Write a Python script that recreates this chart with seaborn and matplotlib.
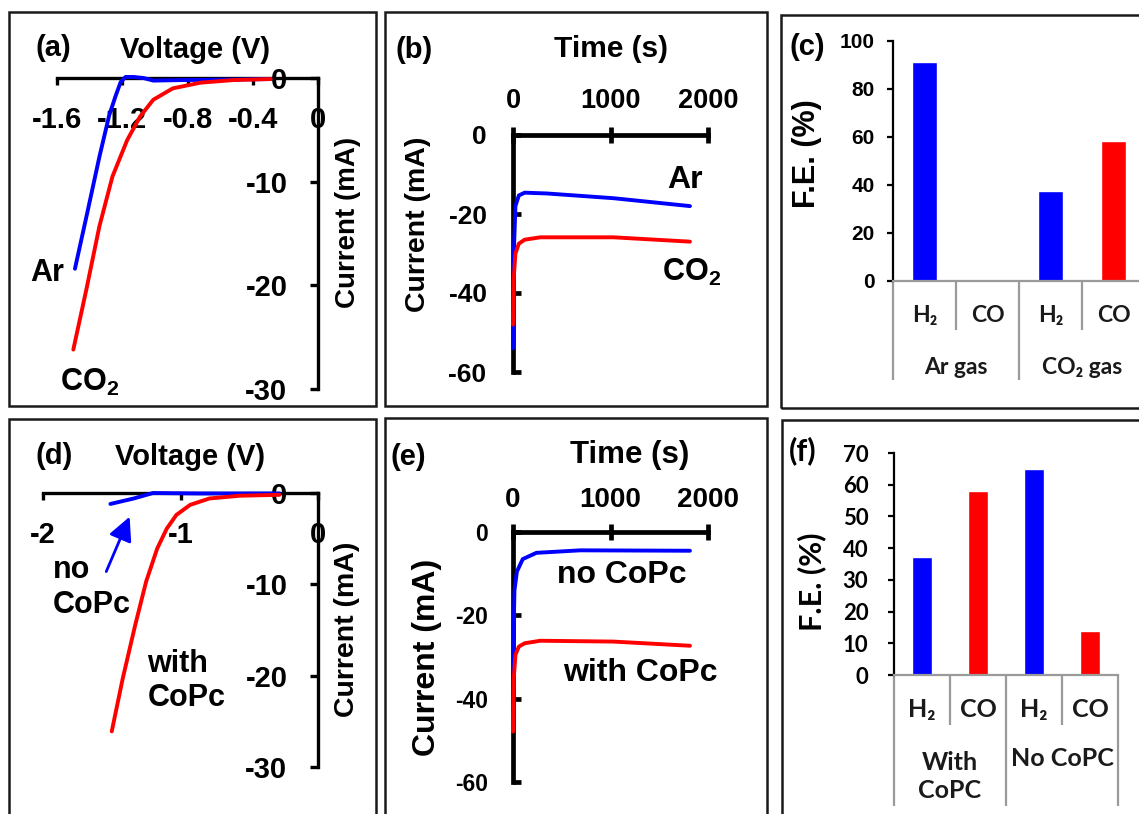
import matplotlib
matplotlib.use('Agg')
import matplotlib.pyplot as plt
import seaborn as sns
from matplotlib.patches import Rectangle

# ---- data ----
# (a) LSV, Ar vs CO2
volt_a_ar = [-1.49, -1.42, -1.34, -1.28, -1.24, -1.21, -1.18, -1.13, -1.07, -1.01, -0.83, -0.52, -0.29]
curr_a_ar = [-18.4, -13.4, -7.6, -3.6, -1.7, -0.4, 0.1, 0.1, 0.0, -0.25, -0.2, -0.15, -0.1]
volt_a_co2 = [-1.50, -1.42, -1.34, -1.26, -1.17, -1.09, -1.01, -0.89, -0.72, -0.52, -0.29]
curr_a_co2 = [-26.2, -20.4, -14.3, -9.5, -6.0, -3.7, -2.1, -1.0, -0.45, -0.2, -0.1]

# (b) chronoamperometry, Ar vs CO2
time_b_ar = [0, 8, 25, 60, 120, 345, 1030, 1815]
curr_b_ar = [-54.0, -30.0, -18.0, -15.3, -14.6, -14.8, -16.0, -18.0]
time_b_co2 = [0, 8, 25, 60, 120, 280, 1030, 1815]
curr_b_co2 = [-48.0, -36.0, -30.0, -27.5, -26.5, -25.9, -25.9, -27.0]

# (c) faradaic efficiency, Ar gas / CO2 gas
cats_c = ['Ar H2', 'Ar CO', 'CO2 H2', 'CO2 CO']
fe_c = [91.2, 0, 37.5, 58.3]
groups_c = ['Ar gas', 'CO₂ gas']

# (d) LSV, with / without CoPc
volt_d_no = [-1.51, -1.34, -1.20, -0.86, -0.28]
curr_d_no = [-1.2, -0.6, 0.0, -0.05, -0.05]
volt_d_with = [-1.50, -1.42, -1.33, -1.25, -1.17, -1.10, -1.03, -0.93, -0.79, -0.57, -0.28]
curr_d_with = [-26.1, -20.3, -14.5, -9.7, -6.1, -3.9, -2.4, -1.3, -0.6, -0.3, -0.2]

# (e) chronoamperometry, with / without CoPc
time_e_no = [0, 5, 15, 40, 100, 240, 690, 1815]
curr_e_no = [-46.7, -25.0, -14.0, -9.5, -6.5, -5.0, -4.4, -4.5]
time_e_with = [0, 8, 25, 60, 120, 280, 1030, 1815]
curr_e_with = [-47.9, -35.0, -29.5, -27.5, -26.7, -26.1, -26.3, -27.3]

# (f) faradaic efficiency, with / without CoPc
cats_f = ['With H2', 'With CO', 'No H2', 'No CO']
fe_f = [37.2, 58.0, 65.0, 13.9]
groups_f = ['With\nCoPC', 'No CoPC']

products = ['H₂', 'CO', 'H₂', 'CO']
bar_colors = ['#0000ff', '#ff0000', '#0000ff', '#ff0000']

xticks_a = [-1.6, -1.2, -0.8, -0.4, 0]
xticklabels_a = ['-1.6', '-1.2', '-0.8', '-0.4', '0']
yticks_a = [0, -10, -20, -30]
xticks_d = [-2, -1, 0]
xticklabels_d = ['-2', '-1', '0']
xticks_t = [0, 1000, 2000]
yticks_t = [0, -20, -40, -60]

BLUE, RED = '#0000ff', '#ff0000'

sns.set_style('white')
plt.rcParams['font.family'] = ['Liberation Sans', 'DejaVu Sans']
plt.rcParams['font.weight'] = 'bold'
plt.rcParams['axes.unicode_minus'] = False
plt.rcParams['mathtext.fontset'] = 'custom'
plt.rcParams['mathtext.rm'] = 'Liberation Sans:bold'
plt.rcParams['mathtext.bf'] = 'Liberation Sans:bold'
for k in ['text.color', 'axes.labelcolor', 'xtick.color', 'ytick.color']:
    plt.rcParams[k] = 'black'

W, H = 1139, 814
fig = plt.figure(figsize=(W / 100, H / 100), dpi=100)
CALIBRI = ['Lato', 'DejaVu Sans']
ARIAL = ['Liberation Sans', 'DejaVu Sans']


def axes_px(x0, y0, x1, y1):
    ax = fig.add_axes([x0 / W, 1 - y1 / H, (x1 - x0) / W, (y1 - y0) / H])
    ax.patch.set_alpha(0)
    return ax


def text_px(x, y, s, **kw):
    kw.setdefault('ha', 'center')
    kw.setdefault('va', 'center')
    fig.text(x / W, 1 - y / H, s, **kw)


def box_px(x0, y0, x1, y1):
    fig.add_artist(Rectangle((x0 / W, 1 - y1 / H), (x1 - x0) / W, (y1 - y0) / H,
                             transform=fig.transFigure, fill=False, lw=1.8, ec='#1a1a1a'))


def curve(ax, x, y, color):
    sns.lineplot(x=x, y=y, ax=ax, color=color, linewidth=2.8, sort=False, estimator=None)
    for ln in ax.lines:
        ln.set_clip_on(False)
        ln.set_zorder(3)
        ln.set_solid_joinstyle('round')


def lsv_axes(ax, xlim, xticks, xlabels, fs):
    ax.set_xlim(*xlim)
    ax.set_ylim(-30, 0)
    ax.spines[['top', 'right']].set_visible(False)
    ax.spines['bottom'].set_position(('data', 0))
    ax.spines['left'].set_position(('data', 0))
    for s in ['bottom', 'left']:
        ax.spines[s].set_linewidth(2.4)
        ax.spines[s].set_color('black')
    ax.set_xticks(xticks, labels=xlabels)
    ax.set_yticks(yticks_a)
    ax.tick_params(axis='x', bottom=True, direction='out', length=5, width=2.4, pad=15, labelsize=fs)
    ax.tick_params(axis='y', left=True, direction='out', length=6, width=2.4, pad=16, labelsize=fs)
    ax.set_xlabel('')
    ax.set_ylabel('')


def ca_axes(ax, xfs, yfs, xpad, ypad):
    ax.set_xlim(0, 2000)
    ax.set_ylim(-60, 0)
    ax.spines[['bottom', 'right']].set_visible(False)
    for s in ['top', 'left']:
        ax.spines[s].set_linewidth(3.4)
        ax.spines[s].set_color('black')
    ax.xaxis.tick_top()
    ax.set_xticks(xticks_t)
    ax.set_yticks(yticks_t)
    ax.tick_params(axis='x', top=True, bottom=False, labeltop=True, labelbottom=False,
                   direction='inout', length=12, width=3.4, pad=xpad, labelsize=xfs)
    ax.tick_params(axis='y', left=True, direction='in', length=6, width=3.4, pad=ypad, labelsize=yfs)
    ax.set_xlabel('')
    ax.set_ylabel('')


def fe_axes(ax, cats, fe, ymax, ystep, width, tick_fs, tick_pad, tick_family,
            inner_len, group_len, prod_off, groups, group_offs, lab_fs):
    sns.barplot(x=cats, y=fe, hue=cats, palette=bar_colors, legend=False,
                width=width, saturation=1, ax=ax)
    ax.set_xlim(-0.5, 3.5)
    ax.set_ylim(0, ymax)
    ax.spines[['top', 'right']].set_visible(False)
    ax.spines['left'].set_color('black')
    ax.spines['left'].set_linewidth(1.6)
    ax.spines['bottom'].set_color('#9a9a9a')
    ax.spines['bottom'].set_linewidth(1.6)
    ax.set_yticks(range(0, ymax + 1, ystep))
    ax.set_xticks([-0.5, 1.5, 3.5], labels=[])
    ax.set_xticks([0.5, 2.5], minor=True)
    ax.tick_params(axis='y', left=True, direction='out', length=4.5, width=1.6,
                   pad=tick_pad, labelsize=tick_fs)
    for t in ax.get_yticklabels():
        t.set_family(tick_family)
        t.set_fontweight('bold')
    ax.tick_params(axis='x', which='major', bottom=True, direction='out', length=group_len,
                   width=1.6, color='#9a9a9a')
    ax.tick_params(axis='x', which='minor', bottom=True, direction='out', length=inner_len,
                   width=1.6, color='#9a9a9a')
    ax.set_xlabel('')
    ax.set_ylabel('')
    for i, p in enumerate(products):
        ax.annotate(p, xy=(i, 0), xycoords=('data', 'axes fraction'), xytext=(0, prod_off),
                    textcoords='offset points', ha='center', va='center', fontsize=lab_fs,
                    family=CALIBRI, fontweight='bold', color='#1a1a1a', annotation_clip=False)
    for g, gx, off in zip(groups, [0.5, 2.5], group_offs):
        ax.annotate(g, xy=(gx, 0), xycoords=('data', 'axes fraction'), xytext=(0, off),
                    textcoords='offset points', ha='center', va='center', fontsize=lab_fs,
                    family=CALIBRI, fontweight='bold', color='#1a1a1a', annotation_clip=False,
                    linespacing=1.3)


# ---- panel frames ----
box_px(9, 12, 376, 406)
box_px(385, 12, 767, 406)
box_px(781, 15, 1150, 408)
box_px(9, 419, 376, 830)
box_px(385, 418, 767, 830)
box_px(782, 420, 1150, 830)

# ---- (a) ----
ax = axes_px(57, 78, 318, 389)
curve(ax, volt_a_ar, curr_a_ar, BLUE)
curve(ax, volt_a_co2, curr_a_co2, RED)
lsv_axes(ax, (-1.6, 0), xticks_a, xticklabels_a, 21)
ax.text(-1.66, -18.8, 'Ar', ha='center', va='center', fontsize=22)
ax.text(-1.40, -29.4, r'CO$_\mathbf{2}$', ha='center', va='center', fontsize=22)
text_px(53, 48, '(a)', fontsize=21)
text_px(195, 50, 'Voltage (V)', fontsize=21)
text_px(348, 222, 'Current (mA)', fontsize=20, rotation=90)

# ---- (b) ----
ax = axes_px(513, 135, 708, 372)
curve(ax, time_b_ar, curr_b_ar, BLUE)
curve(ax, time_b_co2, curr_b_co2, RED)
ca_axes(ax, 19.5, 19, 9, 19)
ax.text(1764, -11.4, 'Ar', ha='center', va='center', fontsize=23)
ax.text(1836, -34.9, r'CO$_\mathbf{2}$', ha='center', va='center', fontsize=22)
text_px(414, 50, '(b)', fontsize=21)
text_px(611, 49, 'Time (s)', fontsize=21.5)
text_px(418, 224, 'Current (mA)', fontsize=20.5, rotation=90)

# ---- (c) ----
ax = axes_px(893, 41, 1145, 281)
fe_axes(ax, cats_c, fe_c, 100, 20, 0.4, 15, 8.5, ARIAL,
        35, 71, -24.5, groups_c, [-62, -62], 16.5)
text_px(807, 47, '(c)', fontsize=21)
text_px(807, 154, 'F.E. (%)', fontsize=22, rotation=90)

# ---- (d) ----
ax = axes_px(43, 493, 318, 767)
curve(ax, volt_d_no, curr_d_no, BLUE)
curve(ax, volt_d_with, curr_d_with, RED)
lsv_axes(ax, (-2, 0), xticks_d, xticklabels_d, 21)
ax.annotate('', xy=(-1.37, -2.6), xytext=(-1.54, -8.6),
            arrowprops=dict(arrowstyle='-|>,head_length=0.6,head_width=0.3', color=BLUE,
                            lw=2, mutation_scale=24, shrinkA=0, shrinkB=0))
ax.text(-1.93, -10.35, 'no\nCoPc', ha='left', va='center', fontsize=22, linespacing=1.25)
ax.text(-1.24, -20.6, 'with\nCoPc', ha='left', va='center', fontsize=22, linespacing=1.2)
text_px(54, 456, '(d)', fontsize=21)
text_px(190, 457, 'Voltage (V)', fontsize=21)
text_px(347, 629, 'Current (mA)', fontsize=20.5, rotation=90)

# ---- (e) ----
ax = axes_px(513, 532, 708, 782)
curve(ax, time_e_no, curr_e_no, BLUE)
curve(ax, time_e_with, curr_e_with, RED)
ca_axes(ax, 20, 16.5, 7.5, 18)
ax.text(1118, -10.3, 'no CoPc', ha='center', va='center', fontsize=23)
ax.text(1303, -33.8, 'with CoPc', ha='center', va='center', fontsize=23)
text_px(408, 457, '(e)', fontsize=21)
text_px(630, 455, 'Time (s)', fontsize=22.5)
text_px(427, 657, 'Current (mA)', fontsize=23, rotation=90)

# ---- (f) ----
ax = axes_px(894, 453, 1118, 675)
fe_axes(ax, cats_f, fe_f, 70, 10, 0.37, 16, 14, CALIBRI,
        36, 94, -25, groups_f, [-73, -60], 18)
text_px(803, 451, '(f)', fontsize=22, family=CALIBRI)
text_px(812, 582, 'F.E. (%)', fontsize=22, rotation=90, family=CALIBRI)

fig.savefig('out.png', dpi=100)
